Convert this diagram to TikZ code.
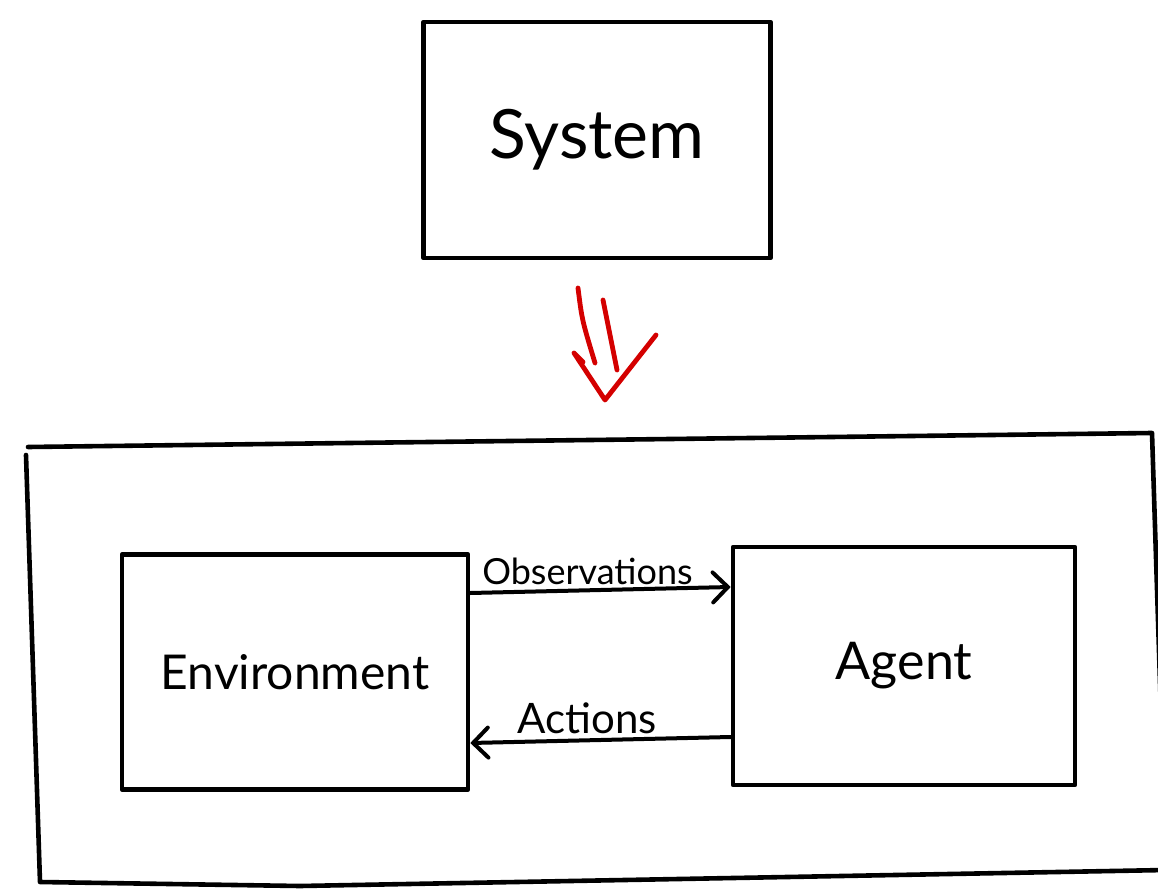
\documentclass[tikz,border=0pt]{standalone}
\usepackage{fontspec}
\setmainfont{Lato}
\usetikzlibrary{arrows.meta}
\definecolor{inkred}{RGB}{212,0,0}
\tikzset{
  ink/.style={line width=4.6pt, line cap=round, line join=round},
  boxnode/.style={ink, draw, rectangle, inner sep=0pt, align=center},
  flow/.style={line width=4pt, line cap=round, line join=round,
    -{Straight Barb[length=15pt,width=30pt,line cap=round]}},
  flowlabel/.style={font=\fontsize{36}{40}\selectfont, inner sep=4pt}
}
\begin{document}
\begin{tikzpicture}[x=1pt,y=-1pt]
  \useasboundingbox (0,0) rectangle (1158,890);

  % top system block
  \node[boxnode, minimum width=347pt, minimum height=236pt,
        font=\fontsize{68}{72}\selectfont] (sys) at (597,140) {System};

  % red double arrow pointing down
  \begin{scope}[inkred, line width=4.8pt, line cap=round, line join=round]
    \draw (578,288) .. controls (582,320) .. (595,363);
    \draw (603,300) -- (617,370);
    \draw (583,362) -- (574,353) -- (605,400) -- (656,335);
  \end{scope}

  % enclosing frame
  \draw[ink] (28,447) -- (1152,433) -- (1166,870) -- (300,886) -- (40,882) -- (26,455);

  % environment and agent blocks
  \node[boxnode, minimum width=346pt, minimum height=235pt,
        font=\fontsize{48}{52}\selectfont] (env) at (295,672) {Environment};
  \node[boxnode, minimum width=342pt, minimum height=238pt,
        font=\fontsize{52}{56}\selectfont] (agent) at (904,666) {Agent};

  % interaction loop
  \draw[flow] ([yshift=79pt]env.east) -- ([yshift=79pt]agent.west)
    node[flowlabel, pos=0.45, above] (obs) {Observations};
  \draw[flow] ([yshift=-71pt]agent.west) -- ([yshift=-71pt]env.east)
    node[flowlabel, font=\fontsize{42}{46}\selectfont, pos=0.55, above] (act) {Actions};
\end{tikzpicture}
\end{document}
